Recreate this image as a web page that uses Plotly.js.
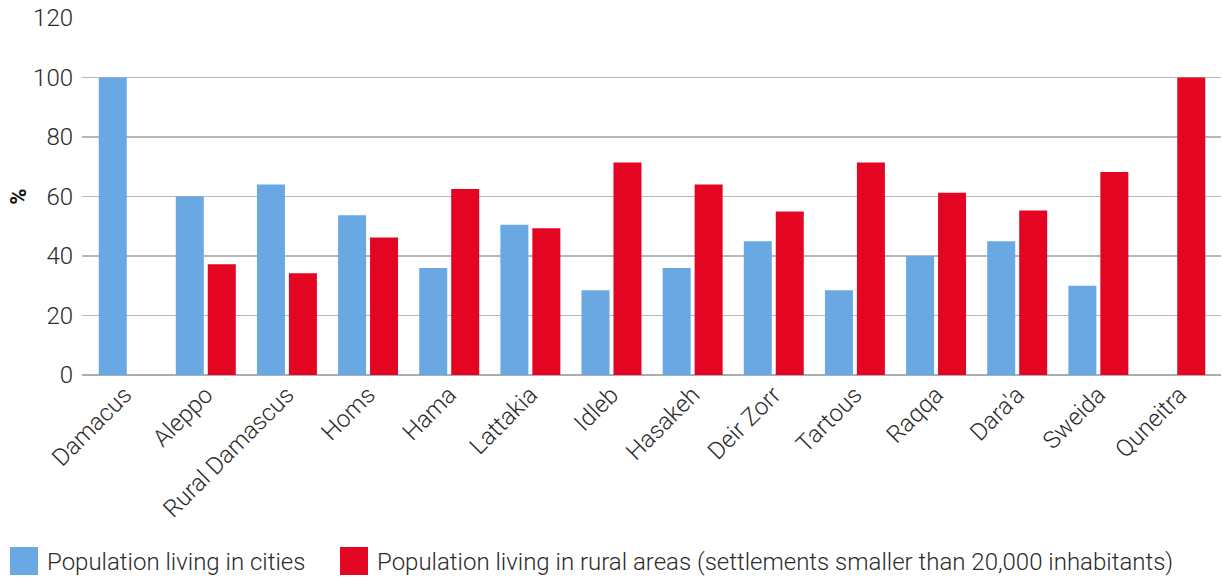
<!DOCTYPE html>
<html>
<head>
<meta charset="utf-8">
<script src="https://cdn.plot.ly/plotly-3.0.1.min.js"></script>
<style>html,body{margin:0;padding:0;background:#fff;}#chart{width:1222px;height:577px;}</style>
</head>
<body>
<div id="chart"></div>
<script>
const categories = ["Damacus","Aleppo","Rural Damascus","Homs","Hama","Lattakia","Idleb","Hasakeh","Deir Zorr","Tartous","Raqqa","Dara'a","Sweida","Quneitra"];
const cityValues = [100, 60, 64, 53.7, 36, 50.5, 28.5, 36, 45, 28.5, 40, 45, 30, 0];
const ruralValues = [0, 37.2, 34.2, 46.2, 62.5, 49.3, 71.4, 64, 55, 71.4, 61.3, 55.3, 68.2, 100];
const seriesNames = ["Population living in cities", "Population living in rural areas (settlements smaller than 20,000 inhabitants)"];
const yTicks = [0, 20, 40, 60, 80, 100, 120];

const barW = 0.345;
const cityOffset = categories.map((c, i) => i === 0 ? -0.318 : -0.369);
const ruralOffset = categories.map((c, i) => i === categories.length - 1 ? -0.027 : 0.025);

const FONT = "Roboto, 'Noto Sans', sans-serif";
const TXT = "#2b2b2b";

const data = [
  {type: "bar", name: seriesNames[0], x: categories, y: cityValues, legend: "legend",
   width: barW, offset: cityOffset, marker: {color: "#6aa8e3"}, hoverinfo: "y"},
  {type: "bar", name: seriesNames[1], x: categories, y: ruralValues, legend: "legend2",
   width: barW, offset: ruralOffset, marker: {color: "#e30521"}, hoverinfo: "y"}
];

const legendBase = {
  orientation: "h", xref: "container", yref: "container",
  y: 0.027, xanchor: "left", yanchor: "middle",
  font: {size: 24, family: FONT, color: TXT, weight: 300},
  itemwidth: 36, bgcolor: "rgba(0,0,0,0)"
};

const layout = {
  width: 1222, height: 577,
  margin: {l: 82, r: 1, t: 18, b: 201.5},
  paper_bgcolor: "#fff", plot_bgcolor: "#fff",
  font: {family: FONT, color: TXT, size: 24, weight: 300},
  xaxis: {
    type: "category", range: [-0.525, 13.512],
    tickangle: -45, tickfont: {size: 24, family: FONT, color: TXT, weight: 300},
    showgrid: false, showline: false, zeroline: false, ticks: "", automargin: false
  },
  yaxis: {
    range: [0, 120], tickvals: yTicks, ticktext: yTicks.map(String),
    tickfont: {size: 24, family: FONT, color: TXT, weight: 300},
    ticklabelstandoff: 8,
    showgrid: true, gridcolor: "#b4b8bd", gridwidth: 1.3,
    zeroline: true, zerolinecolor: "#a9aeb3", zerolinewidth: 1.8,
    ticks: "", ticklen: 0, automargin: false,
    title: {text: "%", font: {size: 22, family: FONT, color: "#111", weight: 700}, standoff: 0}
  },
  showlegend: true,
  legend: Object.assign({}, legendBase, {x: 1 / 1222}),
  legend2: Object.assign({}, legendBase, {x: 331 / 1222}),
  bargap: 0.26
};

Plotly.newPlot("chart", data, layout, {displayModeBar: false, staticPlot: true}).then(function (gd) {
  gd.querySelectorAll(".legendpoints path").forEach(function (p) {
    p.setAttribute("d", "M14,14H-14V-14H14Z");
  });
});
</script>
</body>
</html>
